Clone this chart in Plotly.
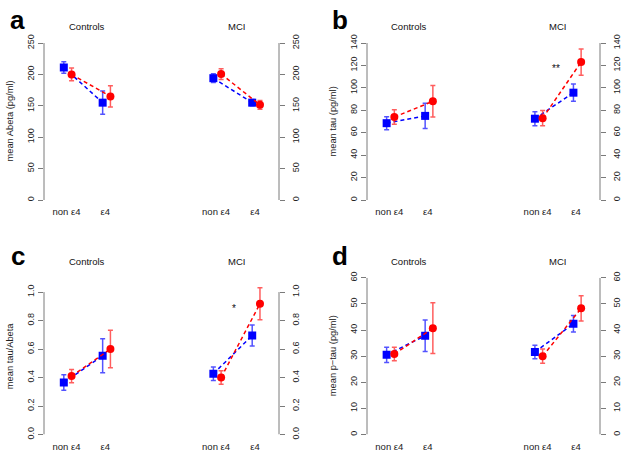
import plotly.graph_objects as go

# ---------------- data ----------------
groups = ["Controls", "MCI"]
categories = ["non ε4", "ε4"]
group_positions = {"Controls": [1.0, 2.0], "MCI": [4.85, 5.85]}

# order: Controls non-e4, Controls e4, MCI non-e4, MCI e4
abeta_blue_mean = [211, 155, 194, 155]
abeta_blue_se = [9, 18.5, 7, 5]
abeta_red_mean = [200, 165, 200.5, 151.5]
abeta_red_se = [10, 17, 8.5, 7]

tau_blue_mean = [68.5, 75, 72.5, 95.7]
tau_blue_se = [5.8, 11.2, 6.2, 7.7]
tau_red_mean = [74, 88, 73, 123]
tau_red_se = [6.5, 14, 6.8, 11.7]

ratio_blue_mean = [0.365, 0.553, 0.426, 0.695]
ratio_blue_se = [0.055, 0.12, 0.047, 0.074]
ratio_red_mean = [0.41, 0.60, 0.40, 0.918]
ratio_red_se = [0.047, 0.132, 0.047, 0.113]

ptau_blue_mean = [30.5, 37.8, 31.6, 42.4]
ptau_blue_se = [2.9, 6.0, 2.6, 3.2]
ptau_red_mean = [30.8, 40.7, 30.0, 48.3]
ptau_red_se = [2.6, 9.7, 2.7, 4.8]

panel_letters = ["a", "b", "c", "d"]
y_titles = ["mean Abeta (pg/ml)", "mean tau (pg/ml)", "mean tau/Abeta", "mean p\u2212tau (pg/ml)"]
y_tickvals = [
    [0, 50, 100, 150, 200, 250],
    [0, 20, 40, 60, 80, 100, 120, 140],
    [0, 0.2, 0.4, 0.6, 0.8, 1.0],
    [0, 10, 20, 30, 40, 50, 60],
]
y_ticktext = [
    ["0", "50", "100", "150", "200", "250"],
    ["0", "20", "40", "60", "80", "100", "120", "140"],
    ["0.0", "0.2", "0.4", "0.6", "0.8", "1.0"],
    ["0", "10", "20", "30", "40", "50", "60"],
]
y_ranges = [[0, 250], [0, 140], [0, 1.1], [0, 60]]
significance = [None, ("**", 117), ("*", 0.885), None]

panels = [
    (abeta_blue_mean, abeta_blue_se, abeta_red_mean, abeta_red_se),
    (tau_blue_mean, tau_blue_se, tau_red_mean, tau_red_se),
    (ratio_blue_mean, ratio_blue_se, ratio_red_mean, ratio_red_se),
    (ptau_blue_mean, ptau_blue_se, ptau_red_mean, ptau_red_se),
]

# ---------------- layout geometry (pixels) ----------------
W, H = 625, 455
FONT = "Liberation Sans, Arial, Helvetica, sans-serif"
AX_COL = "#7a7a7a"
TXT_COL = "#222222"
x_px = [(44, 279), (367, 600), (44, 279), (367, 600)]
y_px = [(43, 200), (43, 200), (277.8, 434.5), (277.8, 434.5)]
x_range = [0.42, 6.47]
blue_off, red_off = -0.07, 0.13

fig = go.Figure()
shapes = []
annotations = []

def px_x(p):
    return p / W

def px_y(p):
    return 1 - p / H

for i in range(4):
    n = i + 1
    xn = "x" if n == 1 else f"x{n}"
    yn = "y" if n == 1 else f"y{n}"
    yr = f"y{n + 4}"
    bm, bs, rm, rs = panels[i]
    series = [(bm, bs, blue_off, "rgb(0,0,255)", "rgba(40,40,255,0.8)", "square"),
              (rm, rs, red_off, "rgb(255,0,0)", "rgba(255,40,40,0.75)", "circle")]
    for means, ses, off, col, ecol, sym in series:
        for g_idx, g in enumerate(groups):
            xs = [p + off for p in group_positions[g]]
            ys = means[2 * g_idx: 2 * g_idx + 2]
            es = ses[2 * g_idx: 2 * g_idx + 2]
            fig.add_trace(go.Scatter(
                x=xs, y=ys, mode="lines+markers", xaxis=xn, yaxis=yn,
                line=dict(color=col, width=1.5, dash="4px,3px"),
                marker=dict(color=col, size=8, symbol=sym, line=dict(width=0)),
                error_y=dict(type="data", array=es, visible=True, color=ecol,
                             thickness=1.5, width=2.5),
                showlegend=False, hoverinfo="skip",
            ))
    # dummy trace for right axis
    fig.add_trace(go.Scatter(x=[group_positions["Controls"][0]], y=[bm[0]], xaxis=xn, yaxis=yr,
                             mode="markers", marker=dict(opacity=0), showlegend=False,
                             hoverinfo="skip"))

    xd = [px_x(x_px[i][0]), px_x(x_px[i][1])]
    yd = [px_y(y_px[i][1]), px_y(y_px[i][0])]
    all_pos = group_positions["Controls"] + group_positions["MCI"]
    fig.layout[("xaxis" if n == 1 else f"xaxis{n}")] = dict(
        domain=xd, range=x_range, anchor=yn, showgrid=False, zeroline=False, showline=False,
        automargin=False,
        tickvals=all_pos, ticktext=categories * 2, ticks="outside", ticklen=3,
        tickcolor="rgba(0,0,0,0)",
        tickfont=dict(family=FONT, size=9.5, color=TXT_COL),
    )
    yaxis_common = dict(
        range=y_ranges[i], showgrid=False, zeroline=False, showline=False, automargin=False,
        tickvals=y_tickvals[i], ticktext=y_ticktext[i], ticks="outside", ticklen=5,
        tickwidth=1, tickcolor=AX_COL, tickangle=-90,
        tickfont=dict(family=FONT, size=9, color=TXT_COL),
    )
    fig.layout[("yaxis" if n == 1 else f"yaxis{n}")] = dict(domain=yd, anchor=xn, side="left", **yaxis_common)
    fig.layout[f"yaxis{n + 4}"] = dict(overlaying=yn, anchor=xn, side="right",
                                        ticklabelstandoff=3, **yaxis_common)

    top_tick = y_tickvals[i][-1]
    for xx in (0, 1):
        shapes.append(dict(type="line", xref=f"{xn} domain", yref=yn, x0=xx, x1=xx,
                           y0=0, y1=top_tick, line=dict(color=AX_COL, width=1)))

    # group titles
    title_y = 26 if i < 2 else 261.3
    for g in groups:
        annotations.append(dict(
            x=sum(group_positions[g]) / 2 + 0.02, xref=xn, y=px_y(title_y), yref="paper",
            text=g, showarrow=False, xanchor="center", yanchor="middle",
            font=dict(family=FONT, size=9.5, color="#111111")))
    # y title
    annotations.append(dict(
        x=px_x(x_px[i][0] - 34), xref="paper", y=(yd[0] + yd[1]) / 2, yref="paper",
        text=y_titles[i], textangle=-90, showarrow=False, xanchor="center", yanchor="middle",
        font=dict(family=FONT, size=9.3, color=TXT_COL)))
    # panel letter
    letter_y = 20 if i < 2 else 256
    annotations.append(dict(
        x=px_x(x_px[i][0] - 26.5), xref="paper", y=px_y(letter_y), yref="paper",
        text=f"<b>{panel_letters[i]}</b>", showarrow=False, xanchor="center", yanchor="middle",
        font=dict(family=FONT, size=26, color="#000000")))
    # significance marks
    if significance[i] is not None:
        txt, yv = significance[i]
        annotations.append(dict(
            x=5.32, xref=xn, y=yv, yref=yn, text=txt, showarrow=False,
            xanchor="center", yanchor="middle",
            font=dict(family=FONT, size=10, color="#111111")))

fig.update_layout(
    width=W, height=H, margin=dict(l=0, r=0, t=0, b=0, autoexpand=False),
    plot_bgcolor="white", paper_bgcolor="white", showlegend=False,
    shapes=shapes, annotations=annotations,
    font=dict(family=FONT),
)

fig.write_html("out.html", config={"displayModeBar": False},
               post_script="document.body.style.margin='0px';document.body.style.padding='0px';")
